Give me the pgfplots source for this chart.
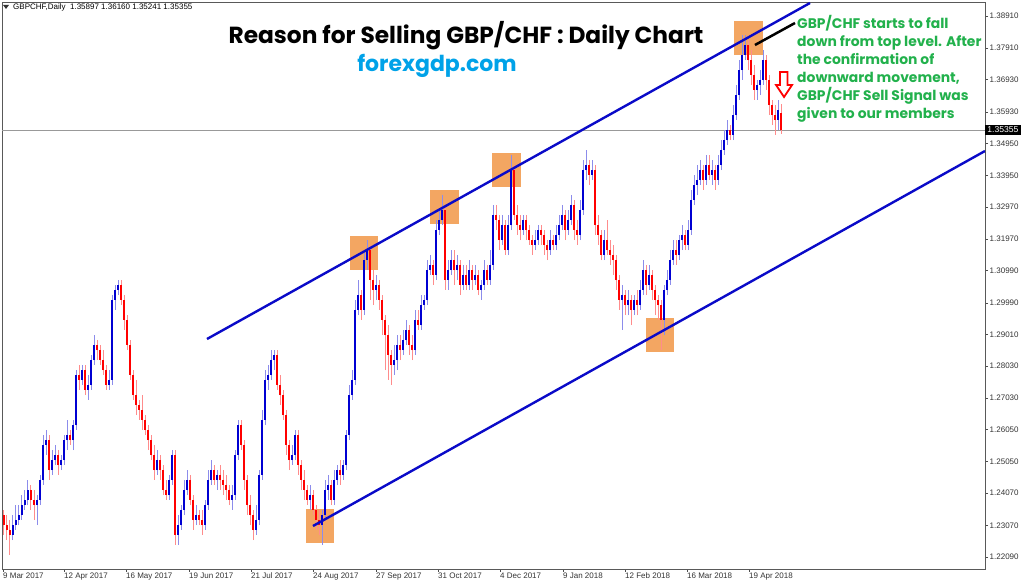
\documentclass[border=0pt]{standalone}
\usepackage{fontspec}
\setmainfont{Liberation Sans}
\newfontfamily\gothic{Poppins}
\usepackage{pgfplots}
\pgfplotsset{compat=1.18}
\usepackage{pgfplotstable}
\definecolor{upblue}{RGB}{0,0,210}
\definecolor{dnred}{RGB}{255,0,0}
\definecolor{boxor}{RGB}{243,166,98}
\definecolor{chan}{RGB}{10,10,200}
\definecolor{grn}{RGB}{34,177,76}
\definecolor{site}{RGB}{0,162,232}
\pgfplotstableread{
x o h l c
4 1.2339 1.2355 1.2277 1.2308
7 1.2308 1.2339 1.2261 1.2293
10 1.2293 1.2324 1.2215 1.2277
13 1.2277 1.2339 1.2261 1.2308
16 1.2308 1.2370 1.2293 1.2324
19 1.2324 1.2370 1.2308 1.2339
22 1.2339 1.2401 1.2324 1.2370
25 1.2370 1.2417 1.2355 1.2386
28 1.2386 1.2448 1.2370 1.2417
31 1.2417 1.2433 1.2355 1.2386
34 1.2386 1.2417 1.2324 1.2370
37 1.2370 1.2401 1.2308 1.2386
40 1.2386 1.2464 1.2370 1.2448
43 1.2448 1.2588 1.2433 1.2557
46 1.2557 1.2604 1.2526 1.2572
49 1.2572 1.2588 1.2448 1.2479
52 1.2479 1.2541 1.2464 1.2510
55 1.2510 1.2557 1.2495 1.2526
58 1.2526 1.2541 1.2464 1.2495
61 1.2495 1.2526 1.2479 1.2510
64 1.2510 1.2588 1.2495 1.2572
67 1.2572 1.2635 1.2541 1.2588
70 1.2588 1.2604 1.2557 1.2572
73 1.2572 1.2635 1.2541 1.2619
76 1.2619 1.2790 1.2604 1.2775
79 1.2775 1.2806 1.2728 1.2759
82 1.2759 1.2806 1.2744 1.2790
85 1.2790 1.2806 1.2712 1.2728
88 1.2728 1.2775 1.2697 1.2744
91 1.2744 1.2837 1.2728 1.2821
94 1.2821 1.2899 1.2806 1.2868
97 1.2868 1.2883 1.2821 1.2852
100 1.2852 1.2868 1.2806 1.2821
103 1.2821 1.2852 1.2775 1.2790
106 1.2790 1.2806 1.2728 1.2744
109 1.2744 1.2790 1.2728 1.2759
112 1.2759 1.3023 1.2744 1.3008
115 1.3008 1.3055 1.2977 1.3039
118 1.3039 1.3070 1.3023 1.3055
121 1.3055 1.3070 1.2992 1.3008
124 1.3008 1.3023 1.2915 1.2946
127 1.2946 1.2961 1.2852 1.2868
130 1.2868 1.2883 1.2759 1.2775
133 1.2775 1.2790 1.2697 1.2712
136 1.2712 1.2759 1.2650 1.2681
139 1.2681 1.2697 1.2635 1.2666
142 1.2666 1.2712 1.2604 1.2635
145 1.2635 1.2650 1.2588 1.2604
148 1.2604 1.2619 1.2541 1.2572
151 1.2572 1.2588 1.2510 1.2526
154 1.2526 1.2557 1.2448 1.2479
157 1.2479 1.2541 1.2464 1.2510
160 1.2510 1.2526 1.2448 1.2479
163 1.2479 1.2495 1.2401 1.2417
166 1.2417 1.2448 1.2386 1.2401
169 1.2401 1.2464 1.2386 1.2448
172 1.2448 1.2541 1.2433 1.2526
175 1.2526 1.2541 1.2246 1.2277
178 1.2277 1.2339 1.2246 1.2308
181 1.2308 1.2370 1.2293 1.2355
184 1.2355 1.2448 1.2339 1.2417
187 1.2417 1.2479 1.2401 1.2448
190 1.2448 1.2464 1.2370 1.2386
193 1.2386 1.2401 1.2293 1.2324
196 1.2324 1.2370 1.2308 1.2339
199 1.2339 1.2355 1.2308 1.2324
202 1.2324 1.2355 1.2277 1.2308
205 1.2308 1.2386 1.2293 1.2370
208 1.2370 1.2479 1.2355 1.2448
211 1.2448 1.2510 1.2433 1.2479
214 1.2479 1.2495 1.2433 1.2448
217 1.2448 1.2479 1.2417 1.2464
220 1.2464 1.2495 1.2417 1.2448
223 1.2448 1.2479 1.2401 1.2433
226 1.2433 1.2464 1.2386 1.2417
229 1.2417 1.2433 1.2370 1.2386
232 1.2386 1.2433 1.2355 1.2401
235 1.2401 1.2541 1.2386 1.2526
238 1.2526 1.2635 1.2510 1.2619
241 1.2619 1.2635 1.2541 1.2557
244 1.2557 1.2572 1.2417 1.2448
247 1.2448 1.2464 1.2339 1.2370
250 1.2370 1.2401 1.2308 1.2339
253 1.2339 1.2355 1.2261 1.2293
256 1.2293 1.2370 1.2277 1.2324
259 1.2324 1.2479 1.2308 1.2464
262 1.2464 1.2666 1.2448 1.2635
265 1.2635 1.2790 1.2619 1.2759
268 1.2759 1.2806 1.2728 1.2775
271 1.2775 1.2852 1.2759 1.2821
274 1.2821 1.2852 1.2790 1.2837
277 1.2837 1.2852 1.2728 1.2744
280 1.2744 1.2775 1.2681 1.2712
283 1.2712 1.2728 1.2635 1.2650
286 1.2650 1.2666 1.2526 1.2557
289 1.2557 1.2572 1.2479 1.2510
292 1.2510 1.2557 1.2495 1.2526
295 1.2526 1.2604 1.2510 1.2588
298 1.2588 1.2604 1.2464 1.2495
301 1.2495 1.2510 1.2417 1.2448
304 1.2448 1.2479 1.2386 1.2417
307 1.2417 1.2433 1.2370 1.2386
310 1.2386 1.2433 1.2355 1.2401
313 1.2401 1.2417 1.2339 1.2355
316 1.2355 1.2370 1.2293 1.2324
319 1.2324 1.2355 1.2277 1.2308
322 1.2308 1.2355 1.2246 1.2339
325 1.2339 1.2448 1.2324 1.2417
328 1.2417 1.2464 1.2386 1.2433
331 1.2433 1.2448 1.2370 1.2386
334 1.2386 1.2479 1.2370 1.2448
337 1.2448 1.2495 1.2433 1.2479
340 1.2479 1.2510 1.2433 1.2464
343 1.2464 1.2510 1.2448 1.2495
346 1.2495 1.2604 1.2479 1.2588
349 1.2588 1.2744 1.2572 1.2712
352 1.2712 1.2790 1.2697 1.2759
355 1.2759 1.3008 1.2744 1.2977
358 1.2977 1.3070 1.2961 1.3023
361 1.3023 1.3039 1.2946 1.2977
364 1.2977 1.3163 1.2961 1.3132
367 1.3132 1.3194 1.3101 1.3163
370 1.3163 1.3179 1.3008 1.3070
373 1.3070 1.3101 1.2992 1.3039
376 1.3039 1.3086 1.3008 1.3055
379 1.3055 1.3070 1.2977 1.3008
382 1.3008 1.3023 1.2899 1.2946
385 1.2946 1.2961 1.2790 1.2899
388 1.2899 1.2930 1.2759 1.2837
391 1.2837 1.2852 1.2744 1.2806
394 1.2806 1.2868 1.2775 1.2821
397 1.2821 1.2899 1.2790 1.2868
400 1.2868 1.2899 1.2821 1.2852
403 1.2852 1.2915 1.2837 1.2883
406 1.2883 1.2946 1.2868 1.2915
409 1.2915 1.2930 1.2837 1.2868
412 1.2868 1.2899 1.2821 1.2852
415 1.2852 1.2977 1.2837 1.2946
418 1.2946 1.2977 1.2915 1.2930
421 1.2930 1.3023 1.2915 1.2992
424 1.2992 1.3023 1.2977 1.3008
427 1.3008 1.3132 1.2992 1.3101
430 1.3101 1.3148 1.3086 1.3117
433 1.3117 1.3132 1.3055 1.3086
436 1.3086 1.3257 1.3070 1.3226
439 1.3226 1.3288 1.3210 1.3257
442 1.3257 1.3334 1.3241 1.3288
445 1.3288 1.3303 1.3039 1.3070
448 1.3070 1.3132 1.3039 1.3101
451 1.3101 1.3163 1.3086 1.3132
454 1.3132 1.3163 1.3055 1.3101
457 1.3101 1.3148 1.3070 1.3117
460 1.3117 1.3132 1.3023 1.3055
463 1.3055 1.3117 1.3039 1.3086
466 1.3086 1.3117 1.3039 1.3055
469 1.3055 1.3132 1.3039 1.3101
472 1.3101 1.3117 1.3039 1.3070
475 1.3070 1.3117 1.3055 1.3086
478 1.3086 1.3101 1.3023 1.3039
481 1.3039 1.3070 1.3008 1.3055
484 1.3055 1.3132 1.3039 1.3101
487 1.3101 1.3117 1.3055 1.3070
490 1.3070 1.3163 1.3055 1.3117
493 1.3117 1.3303 1.3101 1.3272
496 1.3272 1.3303 1.3226 1.3257
499 1.3257 1.3272 1.3163 1.3194
502 1.3194 1.3272 1.3179 1.3241
505 1.3241 1.3257 1.3148 1.3163
508 1.3163 1.3272 1.3148 1.3241
511 1.3241 1.3459 1.3226 1.3412
514 1.3412 1.3428 1.3257 1.3272
517 1.3272 1.3303 1.3210 1.3241
520 1.3241 1.3272 1.3194 1.3226
523 1.3226 1.3272 1.3210 1.3257
526 1.3257 1.3272 1.3194 1.3226
529 1.3226 1.3241 1.3179 1.3194
532 1.3194 1.3210 1.3148 1.3179
535 1.3179 1.3226 1.3163 1.3194
538 1.3194 1.3241 1.3179 1.3226
541 1.3226 1.3241 1.3179 1.3210
544 1.3210 1.3226 1.3148 1.3179
547 1.3179 1.3194 1.3132 1.3163
550 1.3163 1.3226 1.3148 1.3194
553 1.3194 1.3210 1.3163 1.3179
556 1.3179 1.3241 1.3163 1.3210
559 1.3210 1.3272 1.3194 1.3241
562 1.3241 1.3303 1.3226 1.3272
565 1.3272 1.3288 1.3194 1.3226
568 1.3226 1.3288 1.3210 1.3257
571 1.3257 1.3334 1.3241 1.3303
574 1.3303 1.3319 1.3194 1.3226
577 1.3226 1.3257 1.3179 1.3210
580 1.3210 1.3319 1.3194 1.3288
583 1.3288 1.3443 1.3272 1.3412
586 1.3412 1.3474 1.3381 1.3428
589 1.3428 1.3443 1.3366 1.3397
592 1.3397 1.3443 1.3381 1.3412
595 1.3412 1.3428 1.3210 1.3241
598 1.3241 1.3272 1.3179 1.3210
601 1.3210 1.3226 1.3132 1.3148
604 1.3148 1.3226 1.3132 1.3194
607 1.3194 1.3257 1.3148 1.3163
610 1.3163 1.3194 1.3117 1.3148
613 1.3148 1.3179 1.3086 1.3132
616 1.3132 1.3148 1.3039 1.3070
619 1.3070 1.3086 1.2977 1.3008
622 1.3008 1.3055 1.2915 1.3023
625 1.3023 1.3039 1.2961 1.2992
628 1.2992 1.3039 1.2961 1.3008
631 1.3008 1.3023 1.2930 1.2977
634 1.2977 1.3023 1.2961 1.3008
637 1.3008 1.3039 1.2961 1.2992
640 1.2992 1.3070 1.2977 1.3039
643 1.3039 1.3132 1.3023 1.3101
646 1.3101 1.3117 1.3023 1.3055
649 1.3055 1.3117 1.3039 1.3086
652 1.3086 1.3101 1.3008 1.3039
655 1.3039 1.3055 1.2961 1.3008
658 1.3008 1.3023 1.2946 1.2992
661 1.2992 1.3008 1.2852 1.2946
664 1.2946 1.3055 1.2899 1.3039
667 1.3039 1.3101 1.3023 1.3070
670 1.3070 1.3163 1.3055 1.3132
673 1.3132 1.3194 1.3117 1.3163
676 1.3163 1.3194 1.3117 1.3148
679 1.3148 1.3210 1.3132 1.3194
682 1.3194 1.3241 1.3163 1.3210
685 1.3210 1.3226 1.3163 1.3179
688 1.3179 1.3257 1.3163 1.3226
691 1.3226 1.3350 1.3210 1.3319
694 1.3319 1.3397 1.3303 1.3366
697 1.3366 1.3428 1.3334 1.3381
700 1.3381 1.3443 1.3366 1.3412
703 1.3412 1.3428 1.3350 1.3381
706 1.3381 1.3459 1.3366 1.3428
709 1.3428 1.3459 1.3381 1.3397
712 1.3397 1.3443 1.3366 1.3412
715 1.3412 1.3428 1.3350 1.3381
718 1.3381 1.3459 1.3366 1.3428
721 1.3428 1.3505 1.3412 1.3474
724 1.3474 1.3537 1.3459 1.3505
727 1.3505 1.3568 1.3490 1.3537
730 1.3537 1.3552 1.3505 1.3521
733 1.3521 1.3614 1.3505 1.3583
736 1.3583 1.3677 1.3568 1.3645
739 1.3645 1.3754 1.3630 1.3723
742 1.3723 1.3832 1.3692 1.3770
745 1.3770 1.3832 1.3754 1.3801
748 1.3801 1.3816 1.3723 1.3754
751 1.3754 1.3785 1.3677 1.3708
754 1.3708 1.3739 1.3630 1.3661
757 1.3661 1.3692 1.3630 1.3677
760 1.3677 1.3723 1.3645 1.3692
763 1.3692 1.3785 1.3677 1.3754
766 1.3754 1.3770 1.3661 1.3692
769 1.3692 1.3708 1.3583 1.3614
772 1.3614 1.3630 1.3552 1.3583
775 1.3583 1.3614 1.3521 1.3568
778 1.3568 1.3630 1.3537 1.3599
781 1.35897 1.36160 1.35241 1.35355
}\candles
\begin{document}
\begin{tikzpicture}
\useasboundingbox (0pt,0pt) rectangle (1024pt,585pt);
\begin{axis}[
  at={(2pt,16pt)}, anchor=south west,
  width=983pt, height=567pt, scale only axis,
  xmin=2, xmax=985, ymin=1.217121, ymax=1.393458,
  axis line style={draw=black!65, line width=0.8pt},
  xtick={3,64,126,189,251,313,376,438,500,563,625,687,749},
  xticklabels={9 Mar 2017,12 Apr 2017,16 May 2017,19 Jun 2017,21 Jul 2017,24 Aug 2017,27 Sep 2017,31 Oct 2017,4 Dec 2017,9 Jan 2018,12 Feb 2018,16 Mar 2018,19 Apr 2018},
  ytick={1.2209,1.2307,1.2407,1.2505,1.2605,1.2703,1.2803,1.2901,1.2999,1.3099,1.3197,1.3297,1.3395,1.3495,1.3593,1.3693,1.3791,1.3891},
  yticklabels={1.22090,1.23070,1.24070,1.25050,1.26050,1.27030,1.28030,1.29010,1.29990,1.30990,1.31970,1.32970,1.33950,1.34950,1.35930,1.36930,1.37910,1.38910},
  ytick pos=right, yticklabel pos=right, xtick pos=bottom,
  tick align=outside, major tick length=3pt,
  tick style={black!70, line width=0.6pt},
  yticklabel style={font=\fontsize{8}{9}\selectfont, text=black!80, inner sep=0pt, xshift=1.5pt},
  xticklabel style={font=\fontsize{8}{9}\selectfont, text=black!80, anchor=north west, inner sep=0pt, yshift=-1pt},
  error bars/error mark=none,
  candle/.style={draw=none, mark=none, forget plot, error bars/.cd, y dir=plus, y explicit},
]
% boxes
\fill[boxor] (306,1.235781) rectangle (334,1.225207);
\fill[boxor] (350,1.320684) rectangle (378,1.310110);
\fill[boxor] (430,1.334990) rectangle (459,1.324416);
\fill[boxor] (492,1.346497) rectangle (521,1.335923);
\fill[boxor] (646,1.295182) rectangle (674,1.284608);
\fill[boxor] (734,1.387549) rectangle (763,1.376975);
% current price line
\addplot[black!40, line width=0.7pt] coordinates {(2,1.35355) (985,1.35355)};
% wicks
\addplot[restrict expr to domain={\thisrow{c}-\thisrow{o}}{0:1},
  candle, error bar style={line width=1pt, draw=upblue!45, solid}]
  table[x=x, y=l, y error plus expr=\thisrow{h}-\thisrow{l}] {\candles};
\addplot[restrict expr to domain={\thisrow{c}-\thisrow{o}}{-1:0},
  candle, error bar style={line width=1pt, draw=dnred!45, solid}]
  table[x=x, y=l, y error plus expr=\thisrow{h}-\thisrow{l}] {\candles};
% bodies
\addplot[restrict expr to domain={\thisrow{c}-\thisrow{o}}{0:1},
  candle, error bar style={line width=2.6pt, draw=upblue, solid}]
  table[x=x, y=o, y error plus expr=\thisrow{c}-\thisrow{o}] {\candles};
\addplot[restrict expr to domain={\thisrow{c}-\thisrow{o}}{-1:0},
  candle, error bar style={line width=2.6pt, draw=dnred, solid}]
  table[x=x, y=c, y error plus expr=\thisrow{o}-\thisrow{c}] {\candles};
% channel
\addplot[chan, line width=2.4pt] coordinates {(207,1.288651) (810,1.393147)};
\addplot[chan, line width=2.4pt] coordinates {(313,1.230494) (985,1.347119)};
\end{axis}
% header text
\fill[black!80] (3pt,580pt) -- (9pt,580pt) -- (6pt,576pt) -- cycle;
\node[anchor=west, inner sep=0pt, font=\fontsize{8}{9}\selectfont] at (13pt,578pt) {GBPCHF,Daily\ \ 1.35897 1.36160 1.35241 1.35355};
% price tag
\node[anchor=west, fill=black, text=white, inner xsep=2.2pt, inner ysep=1.6pt, font=\fontsize{8.6}{9}\selectfont] at (985pt,455pt) {1.35355};
% title
\node[anchor=base, inner sep=0pt, font=\gothic\bfseries\fontsize{23.3}{26}\selectfont] at (466pt,541.5pt) {Reason for Selling GBP/CHF : Daily Chart};
\node[anchor=base, inner sep=0pt, text=site, font=\gothic\bfseries\fontsize{22}{24}\selectfont] at (437pt,513pt) {forexgdp.com};
% annotation
\draw[black, line width=2.5pt] (755pt,540pt) -- (795pt,562pt);
\begin{scope}[every node/.style={anchor=base west, inner sep=0pt, text=grn, font=\gothic\bfseries\fontsize{13.9}{15}\selectfont}]
\node at (797pt,556pt) {GBP/CHF starts to fall};
\node at (797pt,538pt) {down from top level. After};
\node at (797pt,520pt) {the confirmation of};
\node at (797pt,502pt) {downward movement,};
\node at (797pt,484pt) {GBP/CHF Sell Signal was};
\node at (797pt,466pt) {given to our members};
\end{scope}
% red arrow
\draw[dnred, line width=1.8pt, fill=white, line join=miter]
  (780pt,513pt) -- (787.5pt,513pt) -- (787.5pt,500pt) -- (792pt,500pt) -- (784pt,488pt) -- (776pt,500pt) -- (780pt,500pt) -- cycle;
\end{tikzpicture}
\end{document}
